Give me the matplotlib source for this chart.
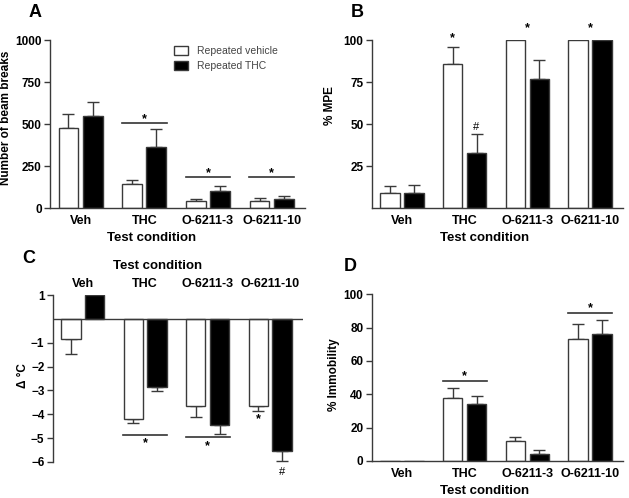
import numpy as np
import matplotlib
matplotlib.use('Agg')
import matplotlib.pyplot as plt
from matplotlib.patches import Patch

plt.rcParams['font.family'] = ['Liberation Sans', 'DejaVu Sans']
plt.rcParams['font.weight'] = 'bold'
plt.rcParams['axes.labelweight'] = 'bold'

# Data
conditions = ['Veh', 'THC', 'O-6211-3', 'O-6211-10']
series_names = ['Repeated vehicle', 'Repeated THC']

# A: locomotor activity
beam_veh = [480, 145, 45, 40]
beam_veh_err = [80, 22, 12, 20]
beam_thc = [552, 365, 105, 55]
beam_thc_err = [80, 105, 25, 15]

# B: antinociception
mpe_veh = [9, 86, 100, 100]
mpe_veh_err = [4, 10, 0, 0]
mpe_thc = [9, 33, 77, 100]
mpe_thc_err = [5, 11, 11, 0]

# C: change in body temperature
temp_veh = [-0.85, -4.2, -3.67, -3.67]
temp_veh_err = [0.6, 0.18, 0.44, 0.18]
temp_thc = [1.0, -2.86, -4.43, -5.55]
temp_thc_err = [0, 0.18, 0.4, 0.42]

# D: catalepsy
immob_veh = [0, 37.5, 12, 73]
immob_veh_err = [0, 6.3, 2.5, 9.3]
immob_thc = [0, 34, 4, 76]
immob_thc_err = [0, 5, 2.4, 8.3]

# significance marks: (group, y of line, y of star)
sig_a = [(1, 505, 532), (2, 183, 210), (3, 183, 210)]
sig_b = [(2, 103.5, 107.5), (3, 103.5, 107.5)]
sig_c = [(1, -4.85, -5.2), (2, -4.97, -5.32)]
sig_d = [(1, 47.8, 50.8), (3, 88.6, 91.6)]

W = 0.31
OFF = 0.19
EDGE = '#3a3a3a'
x = np.arange(len(conditions))

fig = plt.figure(figsize=(6.29, 4.98), dpi=100)


def draw_bars(ax, v1, e1, v2, e2):
    for vals, errs, pos, fc in [(v1, e1, x - OFF, 'white'), (v2, e2, x + OFF, 'black')]:
        vals = np.array(vals)
        errs = np.array(errs)
        up = np.where(vals >= 0, errs, 0)
        dn = np.where(vals < 0, errs, 0)
        has = errs > 0
        ax.bar(pos, vals, W, color=fc, edgecolor=EDGE, linewidth=1.0, zorder=2)
        ax.errorbar(pos[has], vals[has], yerr=[dn[has], up[has]], fmt='none',
                    ecolor=EDGE, elinewidth=1.0, capsize=4.5, capthick=1.0, zorder=1)


def style_axes(ax):
    for s in ['top', 'right']:
        ax.spines[s].set_visible(False)
    for s in ['left', 'bottom']:
        ax.spines[s].set_color(EDGE)
        ax.spines[s].set_linewidth(1.0)
    ax.tick_params(axis='y', length=4, width=1, color=EDGE, labelsize=8.5, pad=2)
    ax.tick_params(axis='x', length=0, labelsize=9, pad=5)
    ax.set_xticks(x)
    ax.set_xticklabels(conditions)
    ax.set_xlim(-0.48, 3.52)


def add_sig(ax, marks):
    for g, yl, ys in marks:
        ax.plot([g - 0.35, g + 0.35], [yl, yl], color='#333333', lw=1.2)
        ax.text(g, ys, '*', ha='center', va='center', fontsize=9)


# Panel A
axA = fig.add_axes([0.0795, 0.582, 0.405, 0.337])
draw_bars(axA, beam_veh, beam_veh_err, beam_thc, beam_thc_err)
style_axes(axA)
axA.set_ylim(0, 1000)
axA.set_yticks([0, 250, 500, 750, 1000])
axA.set_ylabel('Number of beam breaks', fontsize=8.5)
axA.yaxis.set_label_coords(-0.15, 0.536)
axA.set_xlabel('Test condition', fontsize=9.5)
axA.xaxis.set_label_coords(0.40, -0.143)
add_sig(axA, sig_a)
handles = [Patch(facecolor='white', edgecolor=EDGE), Patch(facecolor='black', edgecolor=EDGE)]
axA.legend(handles, series_names, loc='upper left', bbox_to_anchor=(0.47, 0.99), frameon=False,
           prop={'size': 7.5, 'weight': 'normal'}, labelcolor='#444444', handlelength=1.4,
           handleheight=0.9, borderaxespad=0, labelspacing=0.45)
fig.text(0.045, 0.975, 'A', fontsize=13, va='center', ha='left')

# Panel B
axB = fig.add_axes([0.591, 0.582, 0.399, 0.337])
draw_bars(axB, mpe_veh, mpe_veh_err, mpe_thc, mpe_thc_err)
style_axes(axB)
axB.set_ylim(0, 100)
axB.set_yticks([25, 50, 75, 100])
axB.set_ylabel('% MPE', fontsize=8.5)
axB.yaxis.set_label_coords(-0.141, 0.61)
axB.set_xlabel('Test condition', fontsize=9.5)
axB.xaxis.set_label_coords(0.45, -0.143)
add_sig(axB, sig_b)
axB.text(1 - OFF, 101, '*', ha='center', va='center', fontsize=9)
axB.text(1 + OFF, 48.5, '#', ha='center', va='center', fontsize=8, weight='normal')
fig.text(0.558, 0.975, 'B', fontsize=13, va='center', ha='left')

# Panel C
axC = fig.add_axes([0.084, 0.0723, 0.397, 0.335])
draw_bars(axC, temp_veh, temp_veh_err, temp_thc, temp_thc_err)
style_axes(axC)
axC.spines['bottom'].set_visible(False)
axC.axhline(0, color=EDGE, lw=1.0, zorder=3)
axC.xaxis.tick_top()
axC.xaxis.set_label_position('top')
axC.tick_params(axis='x', length=0, pad=4)
axC.set_ylim(-6, 1)
axC.set_yticks([1, -1, -2, -3, -4, -5, -6])
axC.set_ylabel('Δ °C', fontsize=8.5)
axC.yaxis.set_label_coords(-0.094, 0.52)
axC.set_xlabel('Test condition', fontsize=9.5)
axC.xaxis.set_label_coords(0.42, 1.155)
add_sig(axC, sig_c)
axC.text(3 - OFF, -4.2, '*', ha='center', va='center', fontsize=9)
axC.text(3 + OFF, -6.4, '#', ha='center', va='center', fontsize=8, weight='normal', clip_on=False)
fig.text(0.035, 0.48, 'C', fontsize=13, va='center', ha='left')

# Panel D
axD = fig.add_axes([0.591, 0.0743, 0.399, 0.335])
draw_bars(axD, immob_veh, immob_veh_err, immob_thc, immob_thc_err)
style_axes(axD)
axD.set_ylim(0, 100)
axD.set_yticks([0, 20, 40, 60, 80, 100])
axD.set_ylabel('% Immobility', fontsize=8.5)
axD.yaxis.set_label_coords(-0.126, 0.515)
axD.set_xlabel('Test condition', fontsize=9.5)
axD.xaxis.set_label_coords(0.45, -0.144)
add_sig(axD, sig_d)
fig.text(0.547, 0.464, 'D', fontsize=13, va='center', ha='left')

fig.savefig('out.png', dpi=100)
